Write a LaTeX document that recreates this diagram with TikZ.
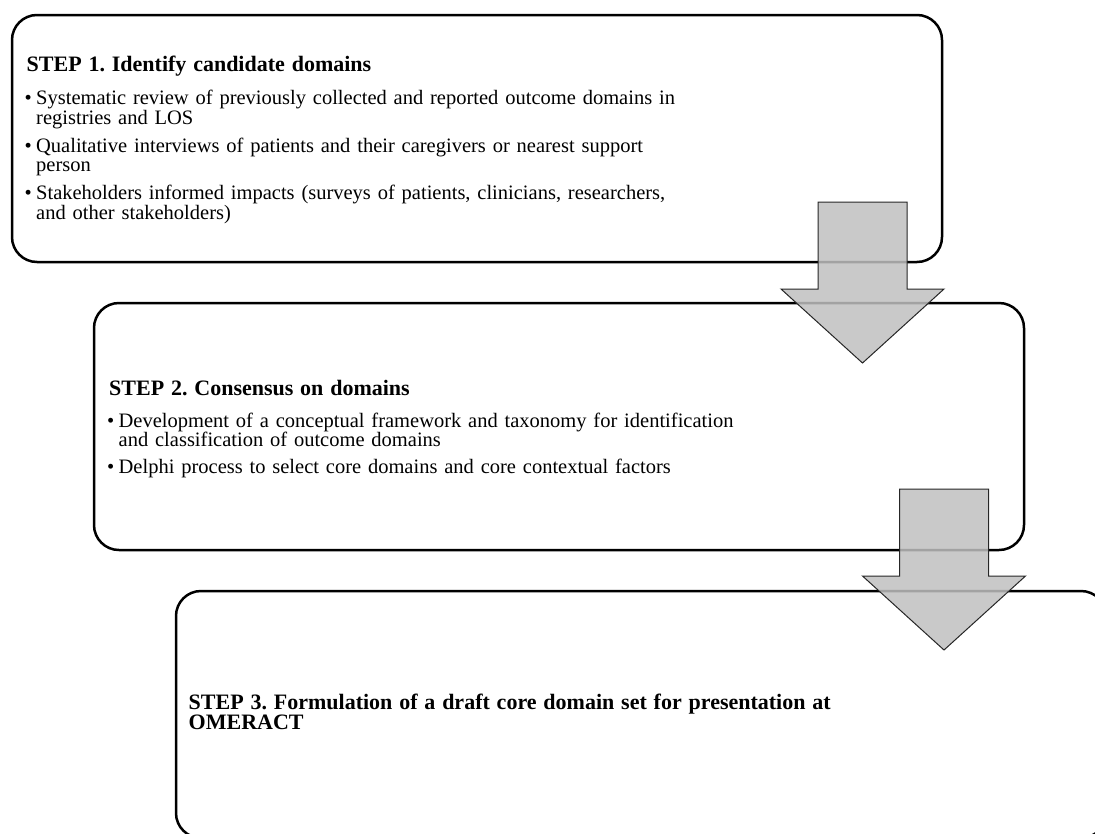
\documentclass[tikz,border=0pt]{standalone}
\usepackage{fontspec}
\setmainfont{Liberation Serif}
\usetikzlibrary{positioning}
\frenchspacing

\tikzset{
  stepbox/.style={draw, line width=2.5pt, rounded corners=25pt, minimum width=930pt, minimum height=247pt, outer sep=0pt, inner sep=0pt},
  steptext/.style={anchor=base west, text width=800pt, align=left, inner sep=0pt, font=\fontsize{20.5}{18.5}\selectfont},
  stepdown/.pic={
    \draw[line width=1pt, draw=black!85, fill=black!25, fill opacity=0.85] (-44.5,0) -- (44.5,0) -- (44.5,87) -- (81.5,87) -- (0,161) -- (-81.5,87) -- (-44.5,87) -- cycle;
  }
}
\newcommand{\stephead}[1]{{\fontsize{22}{18.5}\selectfont\bfseries #1\par}\vspace{5pt}}
\newcommand{\stepitem}[1]{\par\vspace{8.5pt}\hangindent=9.5pt\hangafter=1\noindent\makebox[9.5pt][l]{\hspace{-2pt}\textbullet}#1\par}

\begin{document}
\begin{tikzpicture}[x=1pt, y=-1pt]
        \useasboundingbox (0,0) rectangle (1095,833);
        \clip (0,0) rectangle (1095,833);
        % Boxes
        \node[stepbox] (step1box) at (477,138.5) {};
        \node[stepbox, below=41pt of step1box, xshift=82pt] (step2box) {};
        \node[stepbox, below=41pt of step2box, xshift=82pt] (step3box) {};
        % Text in the boxes
        \node[steptext] (step1text) at ([xshift=14.5pt, yshift=-56pt]step1box.north west) {%
          \stephead{STEP 1. Identify candidate domains}%
          \stepitem{Systematic review of previously collected and reported outcome domains in\newline registries and LOS}%
          \stepitem{Qualitative interviews of patients and their caregivers or nearest support\newline person}%
          \stepitem{Stakeholders informed impacts (surveys of patients, clinicians, researchers,\newline and other stakeholders)}};
        \node[steptext] (step2text) at ([xshift=15pt, yshift=-92pt]step2box.north west) {%
          \stephead{STEP 2. Consensus on domains}%
          \stepitem{Development of a conceptual framework and taxonomy for identification\newline and classification of outcome domains}%
          \stepitem{Delphi process to select core domains and core contextual factors}};
        \node[steptext] (step3text) at ([xshift=12.5pt, yshift=-118pt]step3box.north west) {%
          \stephead{STEP 3. Formulation of a draft core domain set for presentation at\newline OMERACT}};
        % Arrows between the steps
        \pic at ([xshift=-79.5pt, yshift=60pt]step1box.south east) {stepdown};
        \pic at ([xshift=-80pt, yshift=61pt]step2box.south east) {stepdown};
\end{tikzpicture}
\end{document}
